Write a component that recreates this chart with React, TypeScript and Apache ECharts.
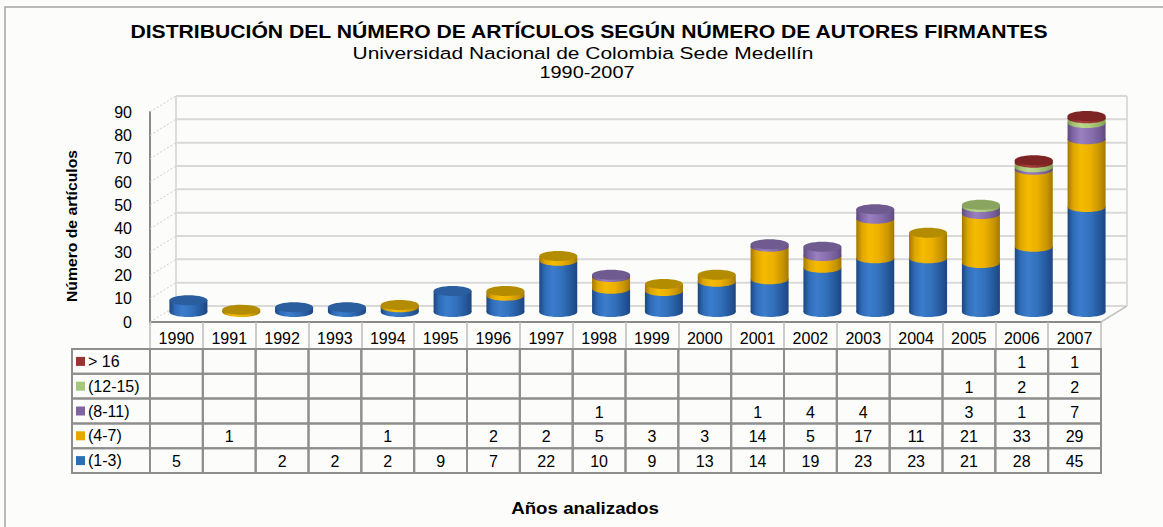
import React, { useEffect, useRef } from "react";
import * as echarts from "echarts";

const years = ["1990", "1991", "1992", "1993", "1994", "1995", "1996", "1997", "1998", "1999", "2000", "2001", "2002", "2003", "2004", "2005", "2006", "2007"];

// series values (null = empty cell)
const v13 = [5, null, 2, 2, 2, 9, 7, 22, 10, 9, 13, 14, 19, 23, 23, 21, 28, 45];
const v47 = [null, 1, null, null, 1, null, 2, 2, 5, 3, 3, 14, 5, 17, 11, 21, 33, 29];
const v811 = [null, null, null, null, null, null, null, null, 1, null, null, 1, 4, 4, null, 3, 1, 7];
const v1215 = [null, null, null, null, null, null, null, null, null, null, null, null, null, null, null, 1, 2, 2];
const v16 = [null, null, null, null, null, null, null, null, null, null, null, null, null, null, null, null, 1, 1];

// stack order bottom -> top
const stackNames = ["(1-3)", "(4-7)", "(8-11)", "(12-15)", "> 16"];
const stackValues = [v13, v47, v811, v1215, v16];

// table rows top -> bottom
const rowLabels = ["> 16", "(12-15)", "(8-11)", "(4-7)", "(1-3)"];
const rowValues = [v16, v1215, v811, v47, v13];

const yMin = 0;
const yMax = 90;
const yInterval = 10;
const yTicks = [0, 10, 20, 30, 40, 50, 60, 70, 80, 90];

const TITLE = "DISTRIBUCIÓN DEL NÚMERO DE ARTÍCULOS SEGÚN NÚMERO DE AUTORES FIRMANTES";
const SUB1 = "Universidad Nacional de Colombia Sede Medellín";
const SUB2 = "1990-2007";
const YTITLE = "Número de artículos";
const XTITLE = "Años analizados";

// styles
const FONT = '"Liberation Sans", Arial, sans-serif';
const stackGrad = [
  ["#1c4680", "#2f6cb8", "#3b7dcc", "#3270bb", "#24579a", "#1c4680"],
  ["#a27700", "#dea600", "#f5bb00", "#ecb000", "#c79400", "#a27700"],
  ["#5e4a80", "#8066a6", "#9a80bf", "#8a70b0", "#735c98", "#5e4a80"],
  ["#7e9a50", "#a4c272", "#bcd88e", "#aecb7e", "#95b264", "#7e9a50"],
  ["#6e1c1c", "#8f2e2e", "#a83d3d", "#9a3434", "#822828", "#6e1c1c"],
];
const stackTop = ["#2a5e9e", "#b38c00", "#6f5b90", "#8aa560", "#7e2424"];
const rowColors = ["#993333", "#a6c87a", "#8064a2", "#e6a800", "#2e6db4"];
const gradStops = [0, 0.15, 0.35, 0.6, 0.85, 1];

const DX = 26;
const DY = -16;
const BX = 12;
const BY = -10;
const BW = 38;
const RY = 5;
const LEGEND_W = 78;

export default function App() {
  const ref = useRef<HTMLDivElement>(null);

  useEffect(() => {
    if (!ref.current) return;
    const chart = echarts.init(ref.current, undefined, { renderer: "svg" });

    const wallSeries = {
      type: "custom",
      xAxisIndex: 0,
      yAxisIndex: 0,
      silent: true,
      clip: false,
      z: 1,
      data: yTicks.map((v) => [0, v]),
      renderItem: (params: any, api: any) => {
        const v = api.value(1);
        const band = api.size([1, 0])[0];
        const p = api.coord([0, v]);
        const pr = api.coord([years.length - 1, v]);
        const left = p[0] - band / 2;
        const right = pr[0] + band / 2;
        const y = p[1];
        const children: any[] = [
          { type: "line", shape: { x1: left, y1: y, x2: left + DX, y2: y + DY }, style: { stroke: "#cdcdcd", lineWidth: 1, lineDash: [2, 2] } },
          { type: "line", shape: { x1: left + DX, y1: y + DY, x2: right + DX, y2: y + DY }, style: { stroke: "#d9d9d9", lineWidth: 2 } },
        ];
        if (v === 0) {
          const top = api.coord([0, yMax])[1];
          children.push({ type: "line", shape: { x1: right, y1: y, x2: right + DX, y2: y + DY }, style: { stroke: "#c4c4c4", lineWidth: 1.5 } });
          children.push({ type: "line", shape: { x1: left + DX, y1: y + DY, x2: left + DX, y2: top + DY }, style: { stroke: "#dcdcdc", lineWidth: 2 } });
          children.push({ type: "line", shape: { x1: right + DX, y1: y + DY, x2: right + DX, y2: top + DY }, style: { stroke: "#dcdcdc", lineWidth: 2 } });
        }
        return { type: "group", children };
      },
    };

    const barSeries = {
      type: "custom",
      xAxisIndex: 0,
      yAxisIndex: 0,
      silent: true,
      clip: false,
      z: 3,
      data: years.map((_, i) => [i, ...stackValues.map((arr) => arr[i] ?? 0)]),
      encode: { x: 0, y: [1, 2, 3, 4, 5] },
      renderItem: (params: any, api: any) => {
        const i = api.value(0);
        const base = api.coord([i, 0]);
        const cx = base[0] + BX;
        const children: any[] = [];
        let cum = 0;
        let topY: number | null = null;
        let topS = 0;
        for (let s = 0; s < stackValues.length; s++) {
          const val = api.value(s + 1);
          if (!val) continue;
          const yb = api.coord([i, cum])[1] + BY;
          cum += val;
          const yt = api.coord([i, cum])[1] + BY;
          const grad = new echarts.graphic.LinearGradient(0, 0, 1, 0,
            stackGrad[s].map((c, k) => ({ offset: gradStops[k], color: c })));
          children.push({ type: "rect", shape: { x: cx - BW / 2, y: yt, width: BW, height: yb - yt }, style: { fill: grad } });
          children.push({ type: "ellipse", shape: { cx, cy: yb, rx: BW / 2, ry: RY }, style: { fill: grad } });
          topY = yt;
          topS = s;
        }
        if (topY !== null) {
          children.push({ type: "ellipse", shape: { cx, cy: topY, rx: BW / 2, ry: RY }, style: { fill: stackTop[topS] } });
        }
        return { type: "group", children };
      },
    };

    const tableData: number[][] = [];
    rowLabels.forEach((_, r) => years.forEach((__, i) => tableData.push([i, r])));

    const tableSeries = {
      type: "custom",
      xAxisIndex: 1,
      yAxisIndex: 1,
      silent: true,
      clip: false,
      z: 2,
      data: tableData,
      renderItem: (params: any, api: any) => {
        const i = api.value(0);
        const r = api.value(1);
        const c = api.coord([i, r]);
        const sz = api.size([1, 1]);
        const w = sz[0];
        const h = sz[1];
        const val = rowValues[r][i];
        return {
          type: "group",
          children: [
            { type: "rect", shape: { x: c[0] - w / 2, y: c[1] - h / 2, width: w, height: h }, style: { fill: "none", stroke: "#8e8e8e", lineWidth: 2 } },
            { type: "text", x: c[0], y: c[1] + 1, style: { text: val == null ? "" : String(val), fontSize: 16, fontFamily: FONT, fill: "#000", align: "center", verticalAlign: "middle", textAlign: "center", textVerticalAlign: "middle" } },
          ],
        };
      },
    };

    const legendCellSeries = {
      type: "custom",
      xAxisIndex: 1,
      yAxisIndex: 1,
      silent: true,
      clip: false,
      z: 2,
      data: rowLabels.map((_, r) => [0, r]),
      renderItem: (params: any, api: any) => {
        const r = api.value(1);
        const c = api.coord([0, r]);
        const sz = api.size([1, 1]);
        const x0 = c[0] - sz[0] / 2;
        return { type: "rect", shape: { x: x0 - LEGEND_W, y: c[1] - sz[1] / 2, width: LEGEND_W, height: sz[1] }, style: { fill: "none", stroke: "#8e8e8e", lineWidth: 2 } };
      },
    };

    const rich: any = { t: { fontSize: 16, fontFamily: FONT, color: "#000", padding: [0, 0, 0, 3] } };
    rowColors.forEach((c, k) => { rich["s" + k] = { width: 9, height: 9, backgroundColor: c }; });

    const option: any = {
      animation: false,
      backgroundColor: "#fcfcfa",
      grid: [
        { left: 150, top: 112, width: 951, height: 210 },
        { left: 150, top: 349, width: 951, height: 124 },
      ],
      xAxis: [
        {
          type: "category", gridIndex: 0, data: years, boundaryGap: true,
          axisLine: { show: true, lineStyle: { color: "#8a8a8a", width: 2 } },
          axisTick: { show: true, alignWithLabel: false, interval: 0, length: 27, lineStyle: { color: "#bdbdbd", width: 1.5 } },
          axisLabel: { interval: 0, margin: 8, fontSize: 16, fontFamily: FONT, color: "#000" },
          splitLine: { show: false },
        },
        { type: "category", gridIndex: 1, data: years, show: false },
      ],
      yAxis: [
        {
          type: "value", gridIndex: 0, min: yMin, max: yMax, interval: yInterval,
          axisLine: { show: true, lineStyle: { color: "#8a8a8a", width: 2 } },
          axisTick: { show: false },
          splitLine: { show: false },
          axisLabel: { margin: 18, fontSize: 16, fontFamily: FONT, color: "#000" },
        },
        {
          type: "category", gridIndex: 1, data: rowLabels, inverse: true,
          axisLine: { show: false }, axisTick: { show: false }, splitLine: { show: false },
          axisLabel: {
            align: "left", margin: 74,
            formatter: (v: string, idx: number) => `{s${idx}|}{t|${v}}`,
            rich,
          },
        },
      ],
      series: [wallSeries, barSeries, tableSeries, legendCellSeries],
      graphic: [
        { type: "rect", silent: true, z: -10, shape: { x: 5, y: 7, width: 1200, height: 600 }, style: { fill: "none", stroke: "#a3a3a3", lineWidth: 1.5 } },
        { type: "text", x: 589, y: 32, scaleX: 1.175, style: { text: TITLE, fontSize: 18, fontWeight: "bold", fontFamily: FONT, fill: "#000", align: "center", verticalAlign: "middle", textAlign: "center", textVerticalAlign: "middle" } },
        { type: "text", x: 583, y: 53, scaleX: 1.27, style: { text: SUB1, fontSize: 16.5, fontFamily: FONT, fill: "#000", align: "center", verticalAlign: "middle", textAlign: "center", textVerticalAlign: "middle" } },
        { type: "text", x: 587, y: 72, scaleX: 1.17, style: { text: SUB2, fontSize: 17, fontFamily: FONT, fill: "#000", align: "center", verticalAlign: "middle", textAlign: "center", textVerticalAlign: "middle" } },
        { type: "text", x: 72, y: 226, rotation: Math.PI / 2, scaleX: 1.05, style: { text: YTITLE, fontSize: 15, fontWeight: "bold", fontFamily: FONT, fill: "#000", align: "center", verticalAlign: "middle", textAlign: "center", textVerticalAlign: "middle" } },
        { type: "text", x: 585, y: 508, scaleX: 1.17, style: { text: XTITLE, fontSize: 16, fontWeight: "bold", fontFamily: FONT, fill: "#000", align: "center", verticalAlign: "middle", textAlign: "center", textVerticalAlign: "middle" } },
      ],
    };

    chart.setOption(option);
    return () => chart.dispose();
  }, []);

  return <div ref={ref} style={{ position: "absolute", left: 0, top: 0, width: 1163, height: 527 }} />;
}
